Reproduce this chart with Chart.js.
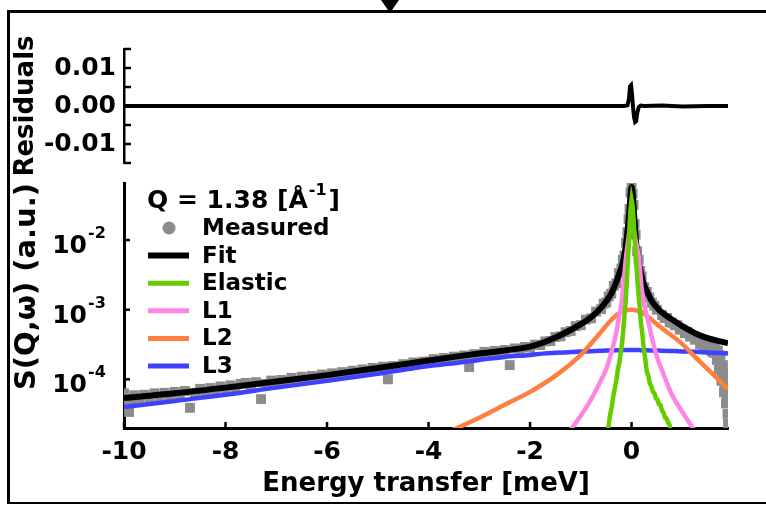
<!DOCTYPE html>
<html><head><meta charset="utf-8">
<script src="https://cdn.jsdelivr.net/npm/chart.js@4.4.1/dist/chart.umd.min.js"></script>
<style>
html,body{margin:0;padding:0;background:#fff;width:766px;height:505px;overflow:hidden;}
#frame{position:absolute;left:7px;top:10px;width:820px;height:489px;border-top:3px solid #000;border-left:3px solid #000;border-bottom:2px solid #000;}
#tri{position:absolute;left:381px;top:0;width:0;height:0;border-left:9px solid transparent;border-right:9px solid transparent;border-top:13px solid #000;}
canvas{position:absolute;left:0;top:0;}
</style></head><body>
<div id="frame"></div><div id="tri"></div>
<canvas id="res" width="766" height="505"></canvas>
<canvas id="main" width="766" height="505"></canvas>
<script>
// ---------- data ----------
const xTickVals = [-10, -8, -6, -4, -2, 0];
const xTickLabels = ['-10', '-8', '-6', '-4', '-2', '0'];
const yTickVals = [1e-2, 1e-3, 1e-4];
const yTickExp = ['-2', '-3', '-4'];
const resTickVals = [-0.01, 0, 0.01];
const resTickLabels = ['-0.01', '0.00', '0.01'];
const resMarkVals = [-0.015, -0.01, -0.005, 0, 0.005, 0.01, 0.015];
const legendLabels = ['Measured', 'Fit', 'Elastic', 'L1', 'L2', 'L3'];
const legendTitle = ['Q = 1.38 [Å', '-1', ']'];

const residualE = [-10, -5, -1, -0.3, -0.15, -0.08, -0.05, -0.03, -0.01, 0.01, 0.03, 0.05, 0.07, 0.09, 0.11, 0.14, 0.18, 0.25, 0.6, 1.0, 1.5, 1.9];
const residualR = [0, 0, 0, 0, 0, 0.0002, 0.002, 0.0052, 0.0055, 0.003, -0.0005, -0.003, -0.0042, -0.004, -0.002, -0.0003, 0.0001, 0, 0.0001, -0.0001, 0, 0];

const curveE = [-10, -9, -8, -7, -6, -5, -4, -3.5, -3, -2.5, -2, -1.75, -1.5, -1.25, -1, -0.8, -0.6, -0.5, -0.4, -0.3, -0.25, -0.2, -0.15, -0.1, -0.07, -0.04, -0.02, 0, 0.02, 0.04, 0.07, 0.1, 0.15, 0.2, 0.25, 0.3, 0.4, 0.5, 0.6, 0.8, 1, 1.25, 1.5, 1.75, 1.9];
const fitS = [5.4e-5, 6.3e-5, 7.6e-5, 9.3e-5, 1.15e-4, 1.45e-4, 1.86e-4, 2.1e-4, 2.35e-4, 2.6e-4, 2.95e-4, 3.35e-4, 3.98e-4, 4.9e-4, 6.2e-4, 7.8e-4, 1.07e-3, 1.32e-3, 1.7e-3, 2.5e-3, 3.2e-3, 4.0e-3, 5.6e-3, 1.0e-2, 1.6e-2, 2.8e-2, 4.5e-2, 5.8e-2, 4.8e-2, 3.0e-2, 1.4e-2, 7.9e-3, 4.5e-3, 3.0e-3, 2.24e-3, 1.86e-3, 1.32e-3, 1.07e-3, 9.1e-4, 7.2e-4, 5.8e-4, 4.6e-4, 3.9e-4, 3.5e-4, 3.3e-4];
const l1S = [1.5e-7, 1.8e-7, 2.3e-7, 3.0e-7, 4.2e-7, 6.2e-7, 1.0e-6, 1.4e-6, 1.9e-6, 2.8e-6, 4.5e-6, 6.0e-6, 1.0e-5, 1.7e-5, 3.0e-5, 5.1e-5, 9.8e-5, 1.4e-4, 2.4e-4, 4.7e-4, 7.6e-4, 1.23e-3, 2.8e-3, 6.5e-3, 9.5e-3, 1.35e-2, 1.6e-2, 1.7e-2, 1.63e-2, 1.45e-2, 1.1e-2, 8.5e-3, 5.2e-3, 2.0e-3, 1.15e-3, 8.3e-4, 4.0e-4, 2.1e-4, 1.35e-4, 5.9e-5, 3.4e-5, 1.8e-5, 1.0e-5, 6.0e-6, 4.8e-6];
const l2S = [1.2e-6, 1.6e-6, 2.2e-6, 3.1e-6, 4.6e-6, 7.2e-6, 1.26e-5, 1.9e-5, 2.8e-5, 4.3e-5, 6.6e-5, 8.5e-5, 1.12e-4, 1.55e-4, 2.24e-4, 3.24e-4, 4.8e-4, 5.9e-4, 7.1e-4, 8.4e-4, 8.85e-4, 9.25e-4, 9.6e-4, 9.8e-4, 9.9e-4, 1.0e-3, 1.0e-3, 1.0e-3, 1.0e-3, 9.95e-4, 9.85e-4, 9.7e-4, 9.45e-4, 9.1e-4, 8.7e-4, 8.1e-4, 7.1e-4, 6.2e-4, 5.4e-4, 4.2e-4, 3.2e-4, 2.1e-4, 1.4e-4, 9.3e-5, 7.2e-5];
const l3S = [4.0e-5, 4.9e-5, 6.0e-5, 7.6e-5, 9.5e-5, 1.2e-4, 1.55e-4, 1.7e-4, 1.9e-4, 2.1e-4, 2.24e-4, 2.34e-4, 2.4e-4, 2.45e-4, 2.5e-4, 2.54e-4, 2.57e-4, 2.59e-4, 2.6e-4, 2.61e-4, 2.62e-4, 2.62e-4, 2.63e-4, 2.63e-4, 2.63e-4, 2.63e-4, 2.63e-4, 2.63e-4, 2.63e-4, 2.63e-4, 2.63e-4, 2.63e-4, 2.63e-4, 2.62e-4, 2.62e-4, 2.61e-4, 2.6e-4, 2.59e-4, 2.58e-4, 2.55e-4, 2.52e-4, 2.48e-4, 2.43e-4, 2.38e-4, 2.35e-4];

const elasticE = [-0.6, -0.5, -0.45, -0.42, -0.39, -0.36, -0.33, -0.3, -0.27, -0.24, -0.21, -0.18, -0.15, -0.12, -0.09, -0.06, -0.04, -0.02, 0, 0.02, 0.04, 0.06, 0.09, 0.12, 0.15, 0.18, 0.21, 0.24, 0.27, 0.3, 0.33, 0.36, 0.39, 0.42, 0.45, 0.48, 0.51, 0.54, 0.57, 0.6, 0.63, 0.66, 0.69, 0.72, 0.75, 0.8];
const elasticS = [5.0e-6, 1.41e-5, 2.24e-5, 3.16e-5, 3.98e-5, 5.75e-5, 7.41e-5, 9.55e-5, 1.38e-4, 1.74e-4, 2.51e-4, 3.63e-4, 6.76e-4, 1.2e-3, 2.82e-3, 7.59e-3, 1.58e-2, 2.82e-2, 3.8e-2, 3.16e-2, 2.0e-2, 1.05e-2, 4.79e-3, 2.34e-3, 1.32e-3, 6.92e-4, 4.68e-4, 2.75e-4, 1.95e-4, 1.29e-4, 1.12e-4, 8.71e-5, 7.94e-5, 6.61e-5, 6.31e-5, 5.37e-5, 5.13e-5, 4.37e-5, 4.27e-5, 3.55e-5, 3.31e-5, 2.82e-5, 2.75e-5, 2.4e-5, 2.19e-5, 1.26e-5];

const measuredE = [
  -10, -10, -10, -9.9, -9.8, -9.7, -9.6, -9.5, -9.4, -9.3,
  -9.2, -9.1, -9.0, -8.9, -8.8, -8.7, -8.6, -8.5, -8.4, -8.3,
  -8.2, -8.1, -8.0, -7.9, -7.8, -7.7, -7.6, -7.5, -7.4, -7.3,
  -7.2, -7.1, -7.0, -6.9, -6.8, -6.7, -6.6, -6.5, -6.4, -6.3,
  -6.2, -6.1, -6.0, -5.9, -5.8, -5.7, -5.6, -5.5, -5.4, -5.3,
  -5.2, -5.1, -5.0, -4.9, -4.8, -4.7, -4.6, -4.5, -4.4, -4.3,
  -4.2, -4.1, -4.0, -3.9, -3.8, -3.7, -3.6, -3.5, -3.4, -3.3,
  -3.2, -3.1, -3.0, -2.9, -2.8, -2.7, -2.6, -2.5, -2.4, -2.3,
  -2.2, -2.1, -2.0, -1.9, -1.8, -1.7, -1.6, -1.5, -1.4, -1.3,
  -1.2, -1.1, -1.0, -0.9, -0.8, -0.7, -0.6, -0.55, -0.5, -0.45,
  -0.4, -0.35, -0.3, -0.25, -0.2, -0.17, -0.14, -0.11, -0.08, -0.06,
  -0.04, -0.02, 0, 0.02, 0.04, 0.06, 0.08, 0.11, 0.14, 0.17,
  0.2, 0.25, 0.3, 0.35, 0.4, 0.45, 0.5, 0.6, 0.7, 0.8,
  0.9, 1.0, 1.1, 1.2, 1.3, 1.4, 1.45, 1.5, 1.55, 1.6,
  1.62, 1.65, 1.68, 1.7, 1.72, 1.75, 1.77, 1.8, 1.82, 1.84,
  1.86, 1.88, 1.89, 1.9, 1.9,
  0.65, 0.75, 0.85, 0.95, 1.05, 1.15, 1.25, 1.35, 1.42, 1.48,
  1.52, 1.58, 1.63, 1.7, 1.74, 1.78, 1.81, 1.83, 1.85, 1.87,
  -10, -9.95, -9.85
];
const measuredS = [
  5.4e-5, 6.3e-5, 4.5e-5, 3.4e-5, 5.9e-5, 5.3e-5, 6.0e-5, 5.4e-5, 6.3e-5, 5.5e-5,
  6.4e-5, 5.8e-5, 6.6e-5, 6.1e-5, 6.8e-5, 3.9e-5, 6.4e-5, 7.3e-5, 6.5e-5, 7.5e-5,
  6.9e-5, 7.9e-5, 7.1e-5, 8.2e-5, 7.4e-5, 8.6e-5, 8.9e-5, 7.9e-5, 9.1e-5, 5.2e-5,
  8.6e-5, 9.6e-5, 9.0e-5, 9.8e-5, 9.4e-5, 1.05e-4, 9.6e-5, 1.09e-4, 1.0e-4, 1.12e-4,
  1.05e-4, 1.17e-4, 1.09e-4, 1.22e-4, 1.13e-4, 1.27e-4, 1.21e-4, 1.33e-4, 1.24e-4, 1.39e-4,
  1.31e-4, 1.46e-4, 1.38e-4, 1.52e-4, 1.0e-4, 1.55e-4, 1.49e-4, 1.65e-4, 1.55e-4, 1.75e-4,
  1.68e-4, 1.8e-4, 1.79e-4, 1.95e-4, 1.84e-4, 2.02e-4, 1.94e-4, 2.12e-4, 2.0e-4, 2.2e-4,
  1.5e-4, 2.3e-4, 2.25e-4, 2.48e-4, 2.33e-4, 2.56e-4, 2.47e-4, 2.64e-4, 1.6e-4, 2.78e-4,
  2.72e-4, 2.92e-4, 2.85e-4, 3.15e-4, 3.1e-4, 3.5e-4, 3.55e-4, 4.05e-4, 4.15e-4, 4.75e-4,
  4.95e-4, 5.8e-4, 6.0e-4, 7.2e-4, 7.5e-4, 9.4e-4, 1.02e-3, 1.22e-3, 1.27e-3, 1.55e-3,
  1.7e-3, 2.2e-3, 2.4e-3, 3.35e-3, 3.9e-3, 5.2e-3, 6.0e-3, 9.2e-3, 1.3e-2, 2.0e-2,
  2.8e-2, 4.8e-2, 6.4e-2, 4.6e-2, 3.2e-2, 1.7e-2, 1.2e-2, 6.9e-3, 5.2e-3, 3.6e-3,
  3.0e-3, 2.1e-3, 1.8e-3, 1.5e-3, 1.26e-3, 1.14e-3, 1.0e-3, 8.4e-4, 7.6e-4, 6.5e-4,
  6.0e-4, 5.2e-4, 4.8e-4, 4.2e-4, 3.9e-4, 3.4e-4, 3.0e-4, 3.3e-4, 2.7e-4, 3.1e-4,
  2.4e-4, 2.9e-4, 1.9e-4, 2.6e-4, 1.4e-4, 2.2e-4, 9.5e-5, 1.6e-4, 6.5e-5, 1.1e-4,
  4.5e-5, 7.5e-5, 3.2e-5, 2.3e-5, 5.0e-5,
  7.6e-4, 6.6e-4, 6.0e-4, 5.2e-4, 4.6e-4, 4.1e-4, 3.7e-4, 3.2e-4, 2.85e-4, 2.7e-4,
  2.95e-4, 2.5e-4, 2.75e-4, 2.0e-4, 1.7e-4, 1.3e-4, 1.2e-4, 8.0e-5, 7.0e-5, 5.5e-5,
  4.0e-5, 5.0e-5, 4.7e-5
];

// ---------- helpers ----------
const FONT = '"DejaVu Sans", sans-serif';
Chart.defaults.font.family = FONT;
Chart.defaults.font.weight = 'bold';
Chart.defaults.color = '#000';
Chart.defaults.animation = false;

function pts(xs, ys) { return xs.map((x, i) => ({ x: x, y: ys[i] })); }

const inTicks = {
  id: 'inTicks',
  afterDatasetsDraw(chart, args, opts) {
    const ctx = chart.ctx;
    ctx.save();
    ctx.strokeStyle = '#000';
    ctx.lineWidth = opts.width || 2.5;
    const ys = chart.scales.y, xs = chart.scales.x;
    (opts.y || []).forEach(v => {
      const py = ys.getPixelForValue(v);
      ctx.beginPath(); ctx.moveTo(ys.right, py); ctx.lineTo(ys.right + opts.len, py); ctx.stroke();
    });
    (opts.x || []).forEach(v => {
      const px = xs.getPixelForValue(v);
      ctx.beginPath(); ctx.moveTo(px, xs.top); ctx.lineTo(px, xs.top - opts.len); ctx.stroke();
    });
    ctx.restore();
  }
};

const decor = {
  id: 'decor',
  afterDraw(chart) {
    const ctx = chart.ctx;
    const ys = chart.scales.y;
    ctx.save();
    ctx.fillStyle = '#000';
    yTickVals.forEach((v, i) => {
      const py = ys.getPixelForValue(v);
      ctx.textBaseline = 'alphabetic';
      ctx.font = 'bold 25px ' + FONT;
      ctx.textAlign = 'right';
      ctx.fillText('10', 87, py + 13);
      ctx.font = 'bold 16px ' + FONT;
      ctx.textAlign = 'left';
      ctx.fillText(yTickExp[i], 88, py - 2);
    });
    ctx.textAlign = 'left';
    ctx.textBaseline = 'alphabetic';
    let x = 147; const base = 208;
    ctx.font = 'bold 25px ' + FONT;
    ctx.fillText(legendTitle[0], x, base);
    x += ctx.measureText(legendTitle[0]).width + 1;
    ctx.font = 'bold 16px ' + FONT;
    ctx.fillText(legendTitle[1], x, base - 13);
    x += ctx.measureText(legendTitle[1]).width + 2;
    ctx.font = 'bold 25px ' + FONT;
    ctx.fillText(legendTitle[2], x, base);
    ctx.font = 'bold 23px ' + FONT;
    ctx.textBaseline = 'middle';
    legendLabels.forEach((lab, i) => {
      const ds = chart.data.datasets.find(d => d.label === lab);
      const y = 228 + i * 27.6;
      if (ds.showLine === false) {
        ctx.fillStyle = ds.pointBackgroundColor;
        ctx.beginPath(); ctx.arc(169, y, 6.5, 0, Math.PI * 2); ctx.fill();
      } else {
        ctx.strokeStyle = ds.borderColor;
        ctx.lineWidth = lab === 'Fit' ? 6 : 5;
        ctx.beginPath(); ctx.moveTo(148, y); ctx.lineTo(189, y); ctx.stroke();
      }
      ctx.fillStyle = '#000';
      ctx.fillText(lab, 202, y + 1);
    });
    ctx.restore();
  }
};

// ---------- residuals panel ----------
new Chart(document.getElementById('res'), {
  type: 'line',
  data: { datasets: [{
    label: 'Residuals', data: pts(residualE, residualR),
    borderColor: '#000', borderWidth: 4, pointRadius: 0, tension: 0
  }]},
  options: {
    responsive: false, animation: false,
    layout: { padding: { left: 0, top: 49, right: 38, bottom: 342 } },
    plugins: { legend: { display: false }, tooltip: { enabled: false },
      inTicks: { y: resMarkVals, len: 7, width: 2.5 } },
    scales: {
      x: { type: 'linear', min: -10, max: 1.9, display: false },
      y: {
        type: 'linear', min: -0.015, max: 0.015,
        afterBuildTicks: s => { s.ticks = resTickVals.map(v => ({ value: v })); },
        afterFit: s => { s.width = 124; },
        grid: { display: false, drawTicks: false },
        border: { display: true, color: '#000', width: 2.5 },
        ticks: { font: { size: 25, weight: 'bold' }, color: '#000', padding: 8,
          callback: v => resTickLabels[resTickVals.indexOf(v)] },
        title: { display: true, text: 'Residuals', color: '#000',
          font: { size: 26, weight: 'bold' }, padding: { top: 11, bottom: 0 } }
      }
    }
  },
  plugins: [inTicks]
});

// ---------- main panel ----------
new Chart(document.getElementById('main'), {
  type: 'line',
  data: { datasets: [
    { label: 'Measured', data: pts(measuredE, measuredS), showLine: false,
      pointStyle: 'rect', pointRadius: 7, pointBorderWidth: 0,
      pointBackgroundColor: '#8c8c8c', backgroundColor: '#8c8c8c', borderColor: '#8c8c8c', order: 6 },
    { label: 'Fit', data: pts(curveE, fitS), borderColor: '#000000', borderWidth: 6,
      pointRadius: 0, cubicInterpolationMode: 'monotone', order: 5 },
    { label: 'Elastic', data: pts(elasticE, elasticS), borderColor: '#66cc00', borderWidth: 4.5,
      pointRadius: 0, tension: 0, order: 1 },
    { label: 'L1', data: pts(curveE, l1S), borderColor: '#ff85e3', borderWidth: 4.5,
      pointRadius: 0, cubicInterpolationMode: 'monotone', order: 2 },
    { label: 'L2', data: pts(curveE, l2S), borderColor: '#ff7f40', borderWidth: 4.5,
      pointRadius: 0, cubicInterpolationMode: 'monotone', order: 3 },
    { label: 'L3', data: pts(curveE, l3S), borderColor: '#4040ff', borderWidth: 4.5,
      pointRadius: 0, cubicInterpolationMode: 'monotone', order: 4 }
  ]},
  options: {
    responsive: false, animation: false,
    layout: { padding: { left: 0, top: 183, right: 38, bottom: 0 } },
    plugins: { legend: { display: false }, tooltip: { enabled: false },
      inTicks: { y: yTickVals, x: xTickVals, len: 6, width: 2.5 } },
    scales: {
      x: {
        type: 'linear', min: -10, max: 1.9,
        afterBuildTicks: s => { s.ticks = xTickVals.map(v => ({ value: v })); },
        afterFit: s => { s.height = 77; },
        grid: { display: false, drawTicks: false },
        border: { display: true, color: '#000', width: 3 },
        ticks: { font: { size: 25, weight: 'bold' }, color: '#000', padding: 9.5, maxRotation: 0,
          callback: v => xTickLabels[xTickVals.indexOf(v)] },
        title: { display: true, text: 'Energy transfer [meV]', color: '#000',
          font: { size: 26, weight: 'bold' }, padding: { top: 0, bottom: 5 } }
      },
      y: {
        type: 'logarithmic', min: 2e-5, max: 0.066,
        afterBuildTicks: s => { s.ticks = yTickVals.map(v => ({ value: v })); },
        afterFit: s => { s.width = 124; },
        grid: { display: false, drawTicks: false },
        border: { display: true, color: '#000', width: 3 },
        ticks: { display: false },
        title: { display: true, text: 'S(Q,ω) (a.u.)', color: '#000', align: 'end',
          font: { size: 29, weight: 'bold' }, padding: { top: 10, bottom: 0 } }
      }
    }
  },
  plugins: [inTicks, decor]
});
</script>
</body></html>
